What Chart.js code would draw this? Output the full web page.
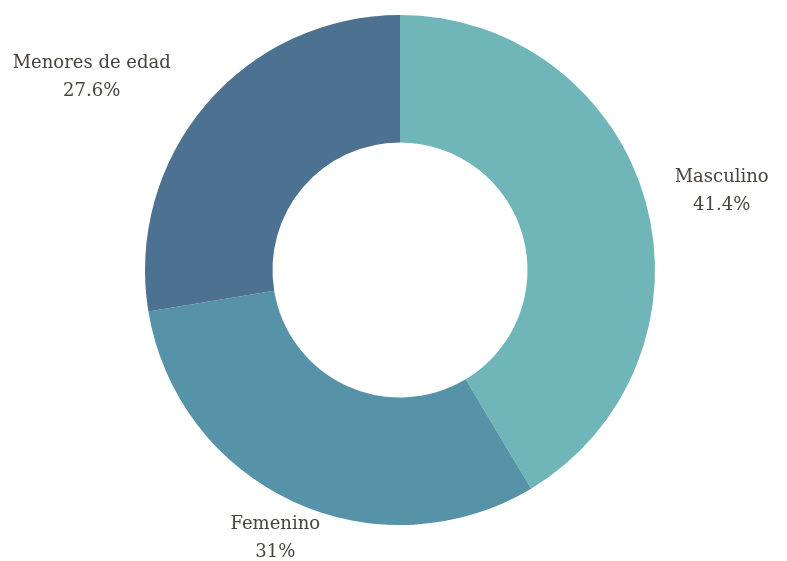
<!DOCTYPE html>
<html>
<head>
<meta charset="utf-8">
<script src="https://cdn.jsdelivr.net/npm/chart.js@4/dist/chart.umd.min.js"></script>
<style>
html,body{margin:0;padding:0;background:#fff;}
#wrap{width:787px;height:561px;position:relative;}
</style>
</head>
<body>
<div id="wrap"><canvas id="c" width="787" height="561"></canvas></div>
<script>
const categories = ["Masculino", "Femenino", "Menores de edad"];
const values = [41.4, 31, 27.6];
const valueLabels = ["41.4%", "31%", "27.6%"];
const colors = ["#70b6b8", "#5693a8", "#4c7191"];
// label offsets relative to mid-angle anchor (outer radius + 30)
const labelShift = [[47, -3], [-5, 10], [-91, -8]];

const labelPlugin = {
  id: 'outLabels',
  afterDatasetsDraw(chart) {
    const ctx = chart.ctx;
    const meta = chart.getDatasetMeta(0);
    ctx.save();
    ctx.font = '18px "DejaVu Serif", serif';
    ctx.fillStyle = '#4a433d';
    ctx.textAlign = 'center';
    ctx.textBaseline = 'middle';
    meta.data.forEach((arc, i) => {
      const p = arc.getProps(['x','y','startAngle','endAngle','outerRadius'], true);
      const mid = (p.startAngle + p.endAngle) / 2;
      const r = p.outerRadius + 30;
      const x = p.x + Math.cos(mid) * r + labelShift[i][0];
      const y = p.y + Math.sin(mid) * r + labelShift[i][1];
      ctx.fillText(categories[i], x, y - 14);
      ctx.fillText(valueLabels[i], x, y + 14);
    });
    ctx.restore();
  }
};

new Chart(document.getElementById('c'), {
  type: 'doughnut',
  data: {
    labels: categories,
    datasets: [{
      data: values,
      backgroundColor: colors,
      borderWidth: 0
    }]
  },
  options: {
    responsive: false,
    animation: false,
    cutout: '50%',
    layout: { padding: { top: 15, bottom: 36, left: 145, right: 132 } },
    plugins: { legend: { display: false }, tooltip: { enabled: false } }
  },
  plugins: [labelPlugin]
});
</script>
</body>
</html>
